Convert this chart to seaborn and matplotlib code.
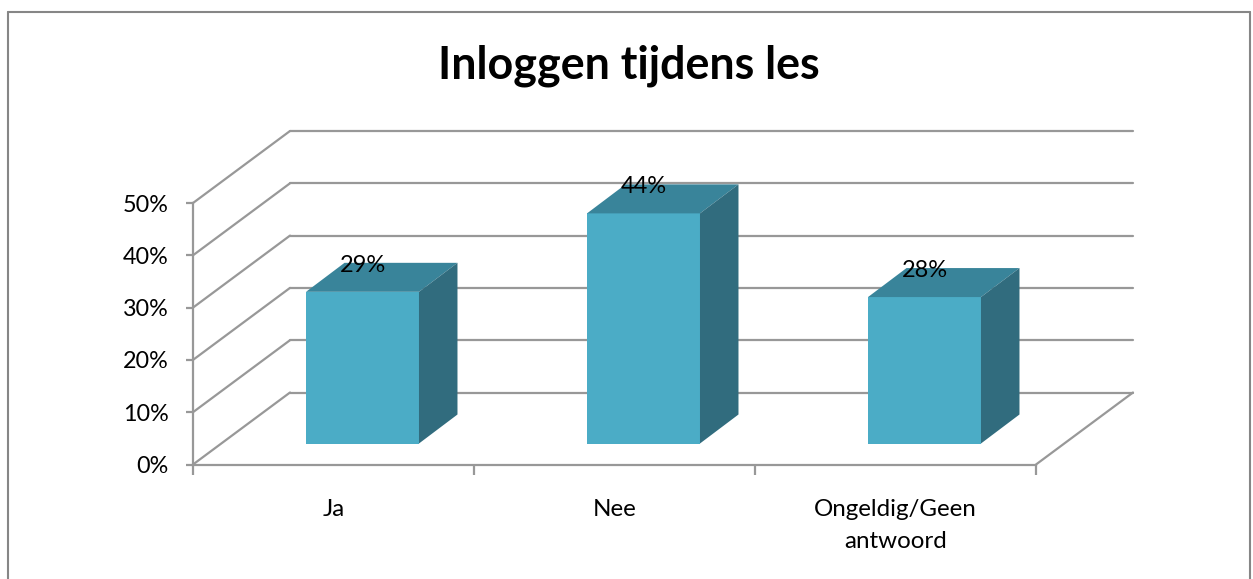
import numpy as np
import pandas as pd
import seaborn as sns
import matplotlib
matplotlib.use("Agg")
import matplotlib.pyplot as plt
from matplotlib.lines import Line2D
from matplotlib.patches import Polygon
from matplotlib.transforms import IdentityTransform

# --- data ---
categories = ["Ja", "Nee", "Ongeldig/Geen\nantwoord"]
values = [29, 44, 28]
value_labels = ["29%", "44%", "28%"]
y_ticks = [0, 10, 20, 30, 40, 50]
y_tick_labels = ["0%", "10%", "20%", "30%", "40%", "50%"]
title = "Inloggen tijdens les"

# --- styling / layout (pixels) ---
W, H = 1253, 579
FRONT = "#4BACC6"
TOP = "#39849A"
SIDE = "#316C7E"
GRID = "#989898"
FRAME = "#868686"
WALL_DX, WALL_DY = 97, 72      # depth of the chart box
BAR_DX, BAR_DY = 29, 21        # bar offset inside the box
FACE_DX, FACE_DY = 38.5, 29    # bar depth
LABEL_UP = 26.5

sns.set_theme(style="white")
plt.rcParams["font.family"] = ["Lato", "DejaVu Sans"]

fig = plt.figure(figsize=(W / 100, H / 100), dpi=100, facecolor="white")
ax = fig.add_axes([193 / W, (H - 464.5) / H, (1036 - 193) / W, (464.5 - 203) / H])
ax.patch.set_alpha(0)

df = pd.DataFrame({"categorie": categories, "waarde": values})
sns.barplot(data=df, x="categorie", y="waarde", width=0.402, color=FRONT,
            saturation=1, ax=ax, zorder=3, linewidth=0)

ax.set_xlim(-0.5, len(categories) - 0.5)
ax.set_ylim(0, 50)
ax.set_xlabel("")
ax.set_ylabel("")
fig.canvas.draw()


def disp(x, y):
    return ax.transData.transform((x, y))


def line(a, b, color=GRID, lw=1.6, z=1):
    ax.add_line(Line2D([a[0], b[0]], [a[1], b[1]], color=color, lw=lw, zorder=z,
                       transform=IdentityTransform(), clip_on=False,
                       solid_capstyle="round"))


# walls and floor
x0, x1 = ax.get_xlim()
for v in y_ticks:
    f = disp(x0, v)
    bl = f + (WALL_DX, WALL_DY)
    br = disp(x1, v) + (WALL_DX, WALL_DY)
    line(f, bl)
    line(bl, br)
line(disp(x1, 0), disp(x1, 0) + (WALL_DX, WALL_DY))

# bars: shift the seaborn front faces into the box and add the 3D faces
for i, patch in enumerate(ax.patches):
    xa, xb = patch.get_x(), patch.get_x() + patch.get_width()
    v = patch.get_height()
    shift = np.array((BAR_DX, BAR_DY))
    d = np.array((FACE_DX, FACE_DY))
    bl, br = disp(xa, 0) + shift, disp(xb, 0) + shift
    tl, tr = disp(xa, v) + shift, disp(xb, v) + shift
    patch.set_transform(ax.transData + matplotlib.transforms.Affine2D().translate(*shift))
    patch.set_clip_on(False)
    patch.set_edgecolor("none")
    ax.add_patch(Polygon([tl, tr, tr + d, tl + d], closed=True, facecolor=TOP, edgecolor="none",
                         transform=IdentityTransform(), clip_on=False, zorder=3))
    ax.add_patch(Polygon([br, br + d, tr + d, tr], closed=True, facecolor=SIDE, edgecolor="none",
                         transform=IdentityTransform(), clip_on=False, zorder=3))
    ax.annotate(value_labels[i], xy=(i, v), xytext=(BAR_DX + 0.5, BAR_DY + LABEL_UP),
                textcoords="offset pixels", ha="center", va="center",
                fontsize=17, color="black", zorder=5, annotation_clip=False)

# axes
sns.despine(ax=ax, top=True, right=True)
for side in ("left", "bottom"):
    ax.spines[side].set_color(GRID)
    ax.spines[side].set_linewidth(1.6)
ax.set_yticks(y_ticks, y_tick_labels)
ax.set_xticks(range(len(categories)), categories)
ax.set_xticks(np.arange(len(categories) + 1) - 0.5, minor=True)
ax.tick_params(axis="y", length=5, width=1.6, color=GRID, left=True, pad=12.5, labelsize=16.8, labelcolor="black")
ax.tick_params(axis="x", which="major", length=0, pad=24.5, labelsize=17.4, labelcolor="black")
ax.tick_params(axis="x", which="minor", length=7, width=1.6, color=GRID, bottom=True)
for t in ax.get_xticklabels():
    t.set_linespacing(1.66)

# chart title
fig.text(629 / W, 1 - 66 / H, title, ha="center", va="center", fontsize=32.3,
         fontweight="bold", color="black")

# chart frame (bottom edge lies outside the crop)
for (a, b, c, d) in [(8, 12, 1250, 12), (8, 12, 8, H), (1250, 12, 1250, H)]:
    fig.add_artist(Line2D([a / W, c / W], [1 - b / H, 1 - d / H], color=FRAME, lw=1.5,
                          transform=fig.transFigure))

fig.savefig("out.png", dpi=100, facecolor="white")
